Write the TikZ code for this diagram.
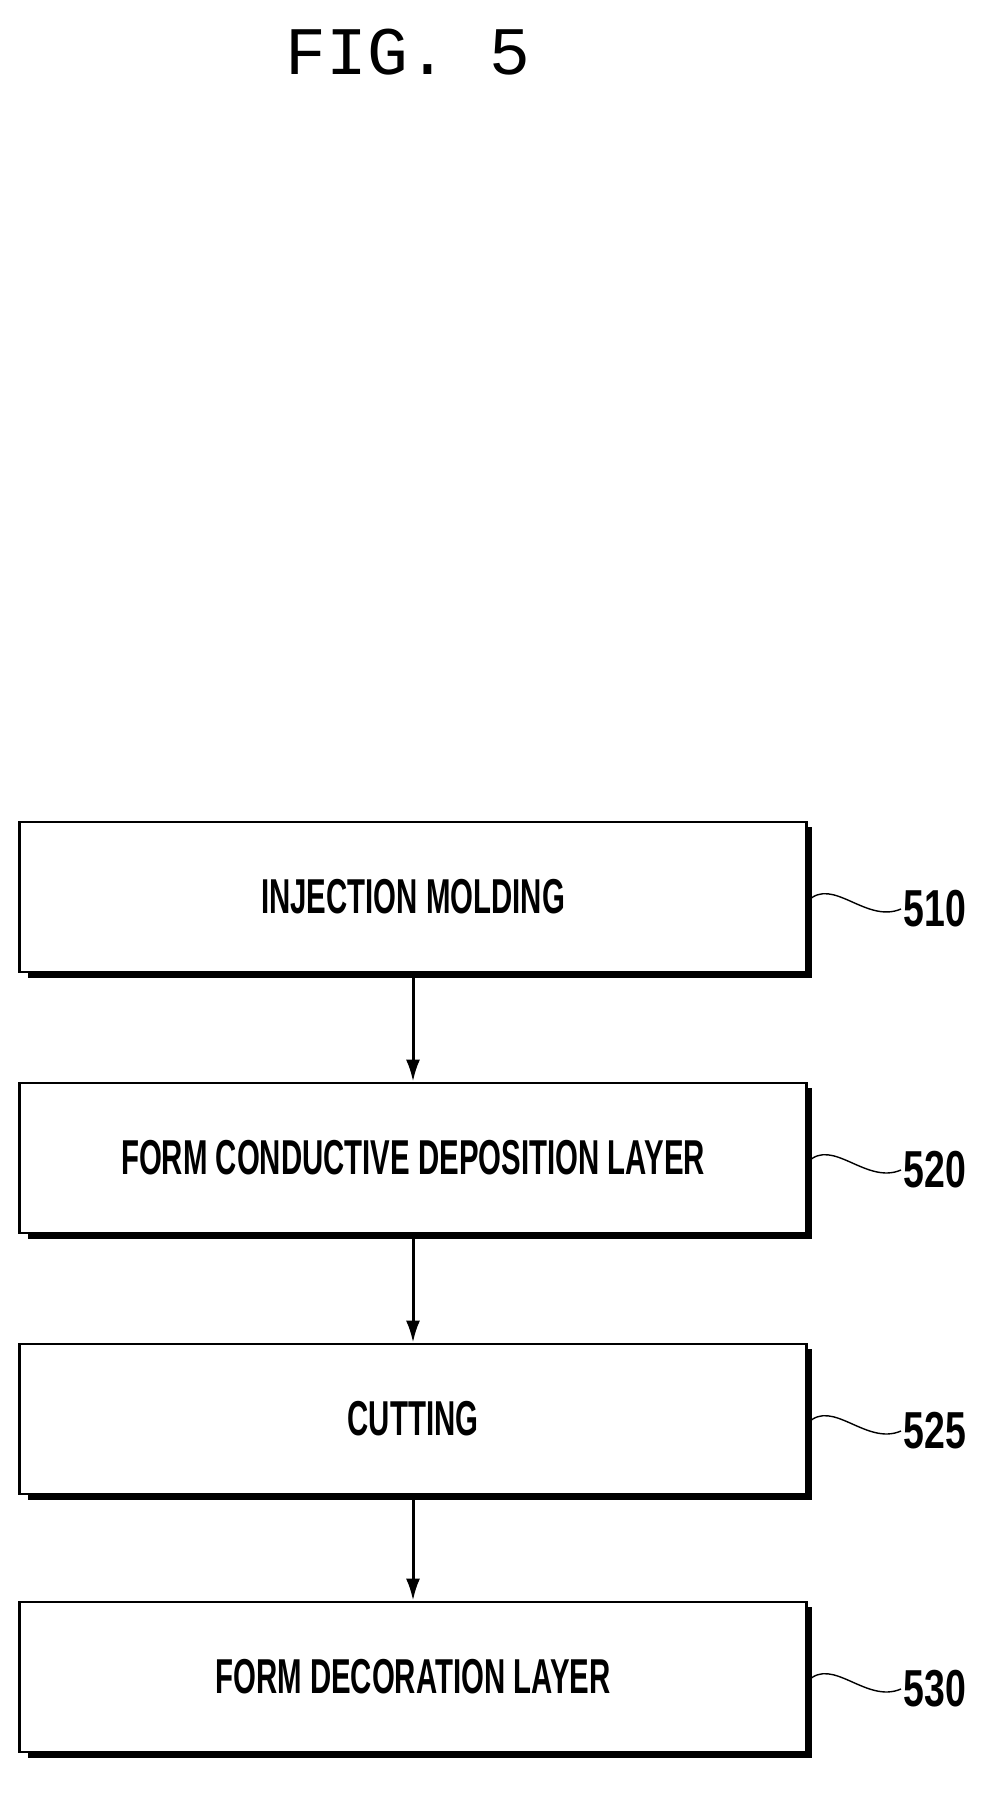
\documentclass[tikz,border=0pt]{standalone}
\usepackage{fontspec}
\setmainfont{Liberation Sans}
\newfontfamily\figfont{Liberation Mono}
\usetikzlibrary{positioning,arrows.meta}
\tikzset{
  stepbox/.style={draw, line width=2.6pt, minimum width=787pt, minimum height=150pt, inner sep=0pt},
  steptext/.style={font=\fontsize{49}{52}\selectfont\bfseries, xscale=0.6},
  reflabel/.style={font=\fontsize{52}{56}\selectfont\bfseries, xscale=0.72, anchor=west},
  flow/.style={-{Latex[length=22pt,width=14pt]}, line width=3pt}
}
\begin{document}
\begin{tikzpicture}[x=1pt,y=-1pt]
\useasboundingbox (0,0) rectangle (998,1794);

\node[font=\figfont\fontsize{68}{70}\selectfont] (title) at (408,52) {FIG. 5};

% process boxes
\foreach \name/\y/\txt/\num in {s510/897/INJECTION MOLDING/510, s520/1158/FORM CONDUCTIVE DEPOSITION LAYER/520, s525/1419/CUTTING/525, s530/1677/FORM DECORATION LAYER/530}{
  \fill (24+4,\y-75+5) rectangle (812,\y+81);
  \node[stepbox, fill=white] (\name) at (413,\y) {};
  \node[steptext] at (\name.center) {\txt};
  \node[reflabel] (l\num) at (901,\y+12) {\num};
  \draw[line width=1.4pt] (\name.east) ++(0,4) .. controls +(25,-25) and +(-35,15) .. (l\num.west);
}

\draw[flow] (s510) -- (s520);
\draw[flow] (s520) -- (s525);
\draw[flow] (s525) -- (s530);
\end{tikzpicture}
\end{document}
